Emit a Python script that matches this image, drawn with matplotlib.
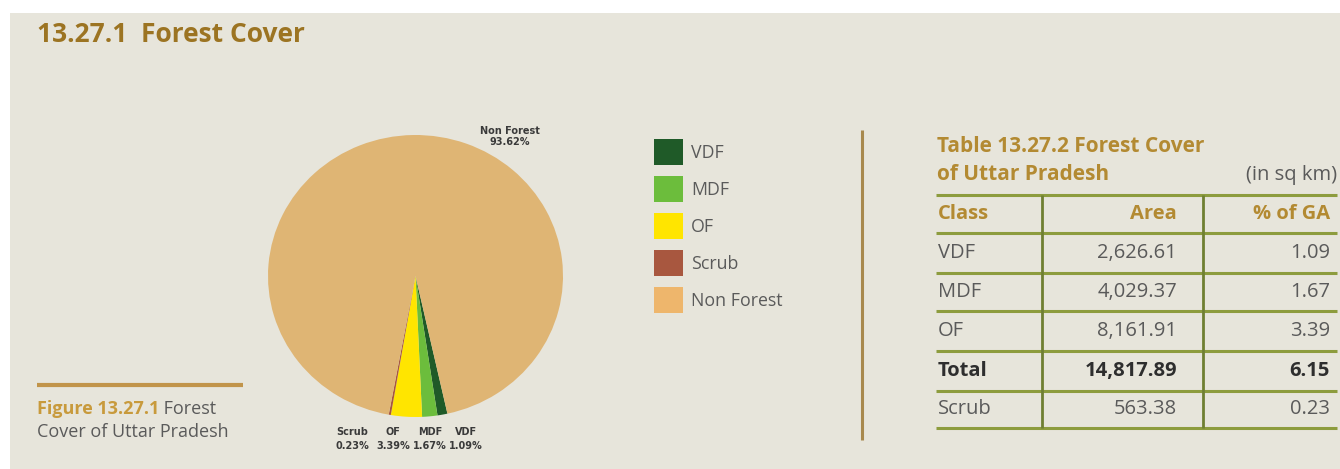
import matplotlib
matplotlib.use("Agg")
import matplotlib.pyplot as plt
from matplotlib.patches import Rectangle

# ---- data ----
classes = ["VDF", "MDF", "OF", "Scrub", "Non Forest"]
pie_pct = [1.09, 1.67, 3.39, 0.23, 93.62]
pie_colors = ["#1f5a28", "#6cbd3c", "#ffe500", "#a8573f", "#dfb574"]
legend_colors = ["#1f5a28", "#6cbd3c", "#ffe500", "#a8573f", "#eeb66c"]

table_classes = ["VDF", "MDF", "OF", "Total", "Scrub"]
table_area = ["2,626.61", "4,029.37", "8,161.91", "14,817.89", "563.38"]
table_pct = ["1.09", "1.67", "3.39", "6.15", "0.23"]

FONT = "Open Sans"
plt.rcParams["font.family"] = [FONT, "DejaVu Sans"]

W, H = 1340, 469
fig = plt.figure(figsize=(W / 100, H / 100), dpi=100)
fig.patch.set_facecolor("white")

bg = fig.add_axes([0, 0, 1, 1])
bg.set_xlim(0, W)
bg.set_ylim(H, 0)
bg.axis("off")
bg.add_patch(Rectangle((10, 13), W - 10, H - 13, facecolor="#e7e5db", edgecolor="none", zorder=0))

gold = "#9c7422"
gold2 = "#b38a32"
grey = "#5a5a5a"

# title
bg.text(37, 34, "13.27.1  Forest Cover", fontsize=19, fontweight="bold", color=gold,
        va="center", ha="left")

# ---- pie ----
cx, cy, rx, ry = 415.5, 276, 147.5, 141
pax = fig.add_axes([(cx - rx) / W, (H - cy - ry) / H, 2 * rx / W, 2 * ry / H])
pax.pie(pie_pct, colors=pie_colors, startangle=-77.5, counterclock=False,
        wedgeprops=dict(linewidth=0))
pax.set_xlim(-1, 1)
pax.set_ylim(-1, 1)
pax.set_aspect("auto")
pax.axis("off")

lab_kw = dict(fontsize=7, fontweight="bold", color="#3a3a3a", ha="center", va="center",
              family="DejaVu Sans")
bg.text(510, 131, classes[4], **lab_kw)
bg.text(510, 142, f"{pie_pct[4]:.2f}%", **lab_kw)
for name, pct, x in zip(classes[3::-1], pie_pct[3::-1], [352, 393, 430, 466]):
    bg.text(x, 432, name, **lab_kw)
    bg.text(x, 446, f"{pct:.2f}%", **lab_kw)

# ---- legend ----
for i, (name, col) in enumerate(zip(classes, legend_colors)):
    y0 = 139 + i * 37
    bg.add_patch(Rectangle((654, y0), 29, 26, facecolor=col, edgecolor="none"))
    bg.text(691, y0 + 14, name, fontsize=12.8, color=grey, va="center", ha="left")

# divider
bg.plot([862, 862], [130, 440], color="#a8894e", lw=2.2, solid_capstyle="butt")

# figure caption
bg.plot([37, 243], [385, 385], color="#c1944a", lw=3, solid_capstyle="butt")
t = bg.text(37, 409, "Figure 13.27.1", fontsize=13, fontweight="bold", color="#c89a3c",
            va="center", ha="left")
bg.annotate(" Forest", xycoords=t, xy=(1, 0.5), va="center", ha="left",
            fontsize=13, color=grey)
bg.text(37, 432, "Cover of Uttar Pradesh", fontsize=13, color=grey, va="center", ha="left")

# ---- table ----
bg.text(937, 146, "Table 13.27.2 Forest Cover", fontsize=15, fontweight="bold",
        color=gold2, va="center", ha="left")
bg.text(937, 175, "of Uttar Pradesh", fontsize=15, fontweight="bold",
        color=gold2, va="center", ha="left")
bg.text(1337, 175, "(in sq km)", fontsize=14.5, color=grey, va="center", ha="right")

line_col = "#8d9c3e"
row_lines = [195, 233, 273, 311, 351, 391, 428]
for y in row_lines:
    bg.plot([936, 1337], [y, y], color=line_col, lw=2.2, solid_capstyle="butt")
for x in [1042, 1203]:
    bg.plot([x, x], [195, 428], color="#6f7f32", lw=2, solid_capstyle="butt")

hdr_y = (row_lines[0] + row_lines[1]) / 2
bg.text(938, hdr_y, "Class", fontsize=14.5, fontweight="bold", color=gold2, va="center", ha="left")
bg.text(1177, hdr_y, "Area", fontsize=14.5, fontweight="bold", color=gold2, va="center", ha="right")
bg.text(1330, hdr_y, "% of GA", fontsize=14.5, fontweight="bold", color=gold2, va="center", ha="right")

for i, (c, a, p) in enumerate(zip(table_classes, table_area, table_pct)):
    y = (row_lines[i + 1] + row_lines[i + 2]) / 2
    bold = c == "Total"
    kw = dict(fontsize=14.5, va="center", color="#2e2e2e" if bold else grey,
              fontweight="bold" if bold else "normal")
    bg.text(938, y, c, ha="left", **kw)
    bg.text(1177, y, a, ha="right", **kw)
    bg.text(1330, y, p, ha="right", **kw)

fig.savefig("out.png", dpi=100, facecolor=fig.get_facecolor())
